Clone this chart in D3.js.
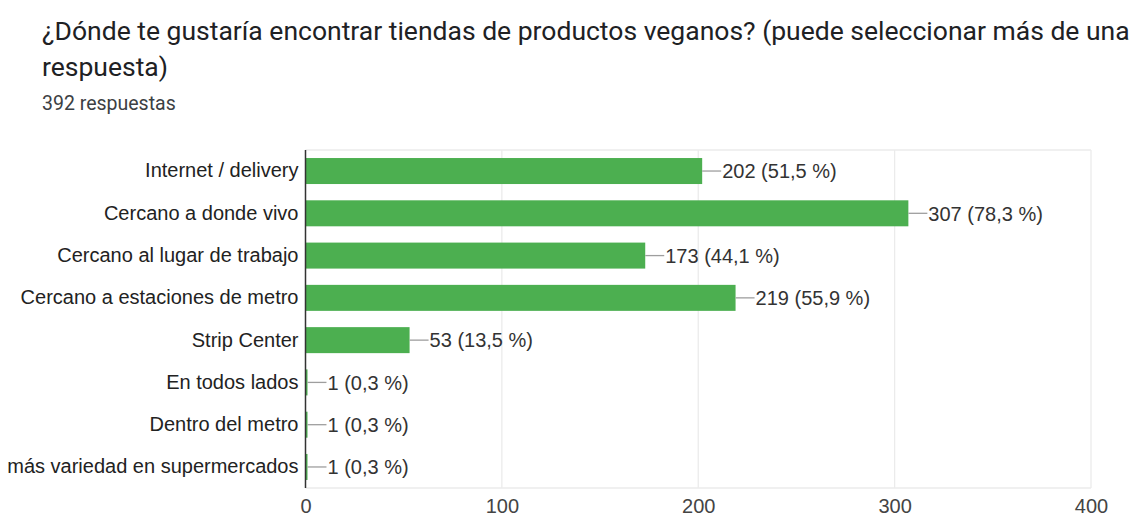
<!DOCTYPE html>
<html>
<head>
<meta charset="utf-8">
<script src="https://cdn.jsdelivr.net/npm/d3@7"></script>
<style>
  body { margin: 0; background: #fff; }
  svg { display: block; }
</style>
</head>
<body>
<div id="chart"></div>
<script>
const categories = [
  "Internet / delivery",
  "Cercano a donde vivo",
  "Cercano al lugar de trabajo",
  "Cercano a estaciones de metro",
  "Strip Center",
  "En todos lados",
  "Dentro del metro",
  "más variedad en supermercados"
];
const counts = [202, 307, 173, 219, 53, 1, 1, 1];
const percents = ["51,5", "78,3", "44,1", "55,9", "13,5", "0,3", "0,3", "0,3"];
const ticks = [0, 100, 200, 300, 400];

const W = 1131, H = 517;
const plotL = 305.5, plotR = 1091, plotT = 150, plotB = 488;
const chartFont = "'Liberation Sans', Arial, sans-serif";

const svg = d3.select("#chart").append("svg")
  .attr("width", W)
  .attr("height", H);

// title block
const title = svg.append("g")
  .style("font-family", "Roboto, 'Noto Sans', sans-serif")
  .attr("fill", "#202124");
title.append("text")
  .attr("x", 42).attr("y", 40)
  .style("font-size", "26.5px")
  .text("¿Dónde te gustaría encontrar tiendas de productos veganos? (puede seleccionar más de una");
title.append("text")
  .attr("x", 42).attr("y", 76)
  .style("font-size", "26.5px")
  .text("respuesta)");
title.append("text")
  .attr("x", 42).attr("y", 110)
  .style("font-size", "19.5px")
  .attr("fill", "#3c4043")
  .text("392 respuestas");

const x = d3.scaleLinear().domain([0, 400]).range([plotL, plotR]);
const y = d3.scaleBand().domain(categories).range([plotT, plotB]).paddingInner(0.385).paddingOuter(0.19);

const rows = categories.map((c, i) => ({ cat: c, n: counts[i], pct: percents[i] }));

// gridlines
svg.append("g").selectAll("line")
  .data(ticks.slice(1))
  .enter().append("line")
  .attr("x1", d => x(d)).attr("x2", d => x(d))
  .attr("y1", plotT).attr("y2", plotB)
  .attr("stroke", "#ebebeb")
  .attr("stroke-width", 1.3);

svg.append("line")
  .attr("x1", plotL).attr("x2", plotR)
  .attr("y1", plotT).attr("y2", plotT)
  .attr("stroke", "#ebebeb").attr("stroke-width", 1.3);
svg.append("line")
  .attr("x1", plotL).attr("x2", plotR)
  .attr("y1", plotB).attr("y2", plotB)
  .attr("stroke", "#ebebeb").attr("stroke-width", 1.3);

// bars
svg.append("g").selectAll("rect")
  .data(rows)
  .enter().append("rect")
  .attr("x", x(0))
  .attr("y", d => y(d.cat))
  .attr("width", d => Math.max(x(d.n) - x(0), 2))
  .attr("height", y.bandwidth())
  .attr("fill", "#4caf50");

// leader lines and value labels
const lab = svg.append("g")
  .style("font-family", chartFont)
  .style("font-size", "20px");
lab.selectAll("line")
  .data(rows)
  .enter().append("line")
  .attr("x1", d => x(d.n)).attr("x2", d => x(d.n) + 19)
  .attr("y1", d => y(d.cat) + y.bandwidth() / 2)
  .attr("y2", d => y(d.cat) + y.bandwidth() / 2)
  .attr("stroke", "#9e9e9e")
  .attr("stroke-width", 1.3);
lab.selectAll("text")
  .data(rows)
  .enter().append("text")
  .attr("x", d => x(d.n) + 20)
  .attr("y", d => y(d.cat) + y.bandwidth() / 2)
  .attr("dy", "0.36em")
  .attr("fill", "#333")
  .text(d => d.n + " (" + d.pct + " %)");

// category axis
const yAxis = svg.append("g")
  .attr("transform", "translate(" + plotL + ",0)")
  .call(d3.axisLeft(y).tickSize(0).tickPadding(7));
yAxis.select(".domain")
  .attr("stroke", "#333")
  .attr("stroke-width", 1.5)
  .attr("d", "M0," + plotT + "V" + plotB);
yAxis.selectAll("text")
  .style("font-family", chartFont)
  .style("font-size", "20px")
  .attr("fill", "#222");

// value axis
const xAxis = svg.append("g")
  .attr("transform", "translate(0," + plotB + ")")
  .call(d3.axisBottom(x).tickValues(ticks).tickSize(0).tickPadding(11));
xAxis.select(".domain").remove();
xAxis.selectAll("text")
  .style("font-family", chartFont)
  .style("font-size", "20px")
  .attr("fill", "#444");
</script>
</body>
</html>
